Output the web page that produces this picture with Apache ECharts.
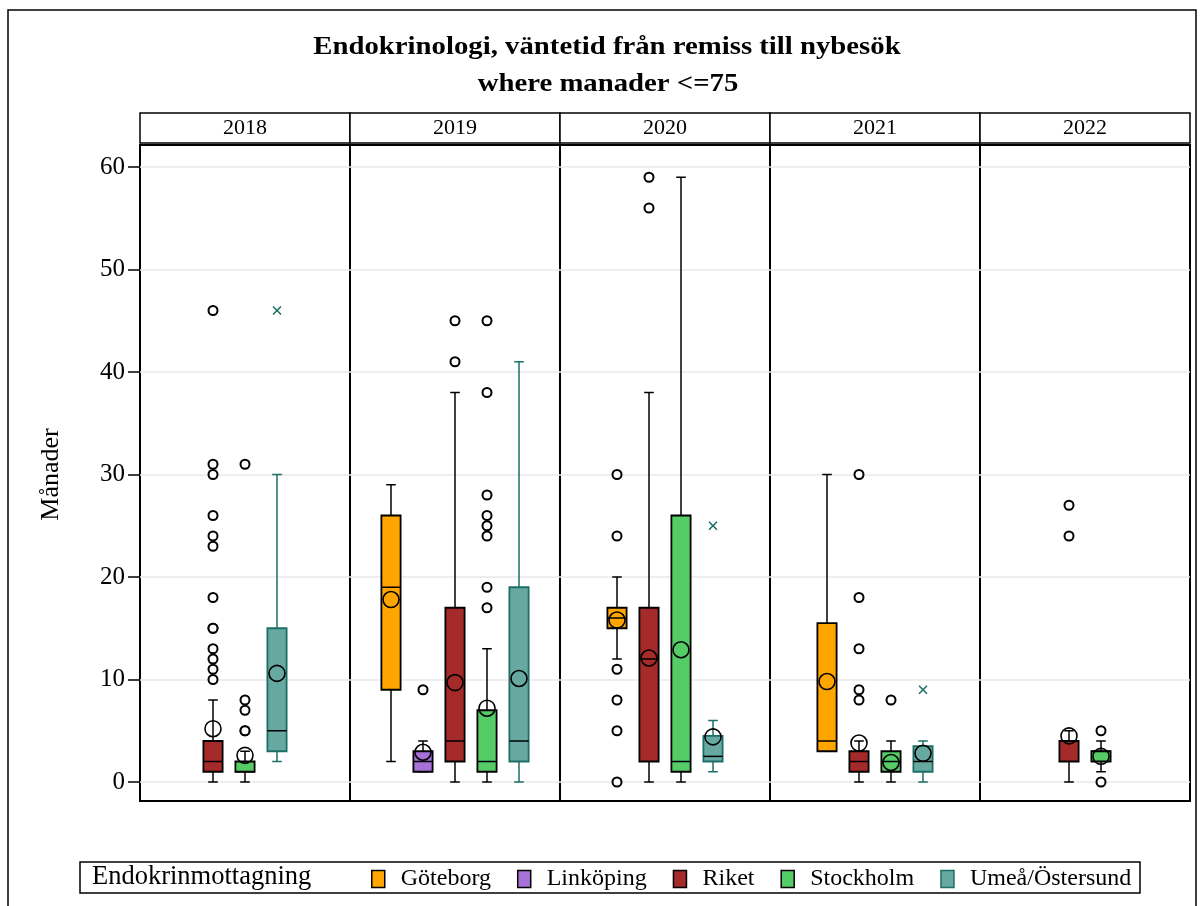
<!DOCTYPE html>
<html>
<head>
<meta charset="utf-8">
<script src="https://cdn.jsdelivr.net/npm/echarts@6/dist/echarts.min.js"></script>
<style>
  html, body { margin: 0; padding: 0; background: #fff; }
  #main { width: 1203px; height: 906px; }
</style>
</head>
<body>
<div id="main"></div>
<script>
// år (paneler) och mottagningar
const years = ['2018', '2019', '2020', '2021', '2022'];
const clinics = ['Göteborg', 'Linköping', 'Riket', 'Stockholm', 'Umeå/Östersund'];
const yTicks = [0, 10, 20, 30, 40, 50, 60];

// [min, Q1, median, Q3, max] per år, null = ingen data det året
const boxGoteborg = [null, [2, 9, 19, 26, 29], [12, 15, 16, 17, 20], [3, 3, 4, 15.5, 30], null];
const boxLinkoping = [null, [1, 1, 2, 3, 4], null, null, null];
const boxRiket = [[0, 1, 2, 4, 8], [0, 2, 4, 17, 38], [0, 2, 12, 17, 38], [0, 1, 2, 3, 4], [0, 2, 4, 4, 5]];
const boxStockholm = [[0, 1, 1, 2, 3], [0, 1, 2, 7, 13], [0, 1, 2, 26, 59], [0, 1, 2, 3, 4], [1, 2, 3, 3, 4]];
const boxUmea = [[2, 3, 5, 15, 30], [0, 2, 4, 19, 41], [1, 2, 2.5, 4.5, 6], [0, 1, 2, 3.5, 4], null];

// medelvärden
const meanGoteborg = [null, 17.8, 15.8, 9.8, null];
const meanLinkoping = [null, 2.9, null, null, null];
const meanRiket = [5.2, 9.7, 12.1, 3.8, 4.5];
const meanStockholm = [2.6, 7.2, 12.9, 1.9, 2.5];
const meanUmea = [10.6, 10.1, 4.4, 2.8, null];

// avvikande värden (ringar)
const outGoteborg = [[], [], [0, 5, 8, 11, 24, 30], [], []];
const outLinkoping = [[], [9], [], [], []];
const outRiket = [[10, 11, 12, 13, 15, 15, 18, 23, 24, 26, 30, 31, 46], [41, 45], [56, 59], [8, 9, 13, 18, 30], [24, 27]];
const outStockholm = [[5, 5, 7, 8, 31], [17, 19, 24, 25, 26, 28, 38, 45], [], [8], [0, 5]];
const outUmea = [[], [], [], [], []];
// extrema värden (kryss)
const farUmea = [[46], [], [25], [9], []];

const boxes = [boxGoteborg, boxLinkoping, boxRiket, boxStockholm, boxUmea];
const means = [meanGoteborg, meanLinkoping, meanRiket, meanStockholm, meanUmea];
const outs = [outGoteborg, outLinkoping, outRiket, outStockholm, outUmea];
const noFar = [[], [], [], [], []];
const fars = [noFar, noFar, noFar, noFar, farUmea];

const fills = ['#FFA500', '#A672D8', '#A52A2A', '#55CC66', '#67A9A1'];
const lines = ['#000000', '#000000', '#000000', '#000000', '#1B6F66'];

const FONT = 'Liberation Serif';
const panelLeft0 = 140, panelW = 210, bandW = 32;
const plotTop = 167, plotH = 615;

const chart = echarts.init(document.getElementById('main'));

const grid = [], xAxis = [], yAxis = [], series = [], graphic = [];

years.forEach(function (yr, p) {
  const pl = panelLeft0 + p * panelW;
  const present = clinics.filter(function (c, i) { return boxes[i][p] !== null; });
  const n = present.length;

  // ram
  grid.push({ left: pl, top: 145, width: panelW, height: 656, show: true, borderColor: '#000', borderWidth: 2, backgroundColor: 'transparent' });
  xAxis.push({ gridIndex: 3 * p, type: 'category', data: [''], show: false });
  yAxis.push({ gridIndex: 3 * p, type: 'value', show: false });

  // rutnätslinjer och y-axel
  grid.push({ left: pl, top: plotTop, width: panelW, height: plotH });
  xAxis.push({ gridIndex: 3 * p + 1, type: 'category', data: [''], show: false });
  yAxis.push({
    gridIndex: 3 * p + 1, type: 'value', min: 0, max: 60, interval: 10,
    axisLine: { show: false },
    axisTick: { show: p === 0, length: 12, lineStyle: { color: '#000', width: 1.5 } },
    axisLabel: { show: p === 0, color: '#000', fontFamily: FONT, fontSize: 25, margin: 15,
      formatter: function (v) { return yTicks.indexOf(v) >= 0 ? String(v) : ''; } },
    splitLine: { show: true, lineStyle: { color: '#e8e8e8', width: 1.5 } },
    name: p === 0 ? 'Månader' : '', nameLocation: 'middle', nameGap: 76, nameRotate: 90,
    nameTextStyle: { color: '#000', fontFamily: FONT, fontSize: 26 }
  });

  // data
  grid.push({ left: pl + panelW / 2 - n * bandW / 2, top: plotTop, width: n * bandW, height: plotH });
  xAxis.push({ gridIndex: 3 * p + 2, type: 'category', data: present, show: false });
  yAxis.push({ gridIndex: 3 * p + 2, type: 'value', min: 0, max: 60, show: false });
  const ax = 3 * p + 2;

  // rubrikruta
  graphic.push({ type: 'rect', shape: { x: pl, y: 113, width: panelW, height: 30 }, style: { fill: '#fff', stroke: '#000', lineWidth: 1.5 } });
  graphic.push({ type: 'text', x: pl + panelW / 2, y: 128, style: { text: yr, font: '22px "' + FONT + '"', fill: '#000', align: 'center', verticalAlign: 'middle' } });

  clinics.forEach(function (c, i) {
    const b = boxes[i][p];
    if (b === null) return;
    const fill = fills[i], line = lines[i];
    series.push({
      name: c, type: 'custom', xAxisIndex: ax, yAxisIndex: ax, z: 2,
      itemStyle: { color: fill, borderColor: line },
      encode: { x: 0, y: [1, 2, 3, 4, 5] },
      data: [[c].concat(b)],
      renderItem: function (params, api) {
        const xi = api.value(0);
        const lo = api.coord([xi, api.value(1)]);
        const q1 = api.coord([xi, api.value(2)]);
        const md = api.coord([xi, api.value(3)]);
        const q3 = api.coord([xi, api.value(4)]);
        const hi = api.coord([xi, api.value(5)]);
        const bw = api.size([1, 0])[0] * 0.6;
        const cw = api.size([1, 0])[0] * 0.3;
        const cx = lo[0];
        const ls = { stroke: line, lineWidth: 1.5 };
        return {
          type: 'group',
          children: [
            { type: 'line', shape: { x1: cx, y1: lo[1], x2: cx, y2: q1[1] }, style: ls },
            { type: 'line', shape: { x1: cx, y1: q3[1], x2: cx, y2: hi[1] }, style: ls },
            { type: 'line', shape: { x1: cx - cw / 2, y1: lo[1], x2: cx + cw / 2, y2: lo[1] }, style: ls },
            { type: 'line', shape: { x1: cx - cw / 2, y1: hi[1], x2: cx + cw / 2, y2: hi[1] }, style: ls },
            { type: 'rect', shape: { x: cx - bw / 2, y: q3[1], width: bw, height: q1[1] - q3[1] }, style: { fill: fill, stroke: line, lineWidth: 1.8 } },
            { type: 'line', shape: { x1: cx - bw / 2, y1: md[1], x2: cx + bw / 2, y2: md[1] }, style: { stroke: '#000', lineWidth: 1.5 } }
          ]
        };
      }
    });
    if (outs[i][p].length) {
      series.push({
        name: c, type: 'scatter', xAxisIndex: ax, yAxisIndex: ax, z: 3,
        symbol: 'circle', symbolSize: 9,
        itemStyle: { color: '#fff', borderColor: '#000', borderWidth: 2, opacity: 1 },
        data: outs[i][p].map(function (v) { return [c, v]; })
      });
    }
    if (fars[i][p].length) {
      series.push({
        name: c, type: 'scatter', xAxisIndex: ax, yAxisIndex: ax, z: 3,
        symbol: 'path://M0,1.2L1.2,0L5,3.8L8.8,0L10,1.2L6.2,5L10,8.8L8.8,10L5,6.2L1.2,10L0,8.8L3.8,5Z',
        symbolSize: 9,
        itemStyle: { color: '#1B6F66', opacity: 1 },
        data: fars[i][p].map(function (v) { return [c, v]; })
      });
    }
    if (means[i][p] !== null) {
      series.push({
        name: c, type: 'scatter', xAxisIndex: ax, yAxisIndex: ax, z: 4,
        symbol: 'circle', symbolSize: 16,
        itemStyle: { color: 'rgba(0,0,0,0)', borderColor: '#000', borderWidth: 1.6, opacity: 1 },
        data: [[c, means[i][p]]]
      });
    }
  });
});

// ytterram, titel och legendruta
graphic.unshift({ type: 'rect', shape: { x: 8, y: 10, width: 1188, height: 910 }, style: { fill: 'none', stroke: '#000', lineWidth: 1.5 }, z: -1 });
graphic.push({ type: 'text', x: 607, y: 48, scaleX: 1.15, style: { text: 'Endokrinologi, väntetid från remiss till nybesök', font: 'bold 25px "' + FONT + '"', fill: '#000', align: 'center', verticalAlign: 'middle' } });
graphic.push({ type: 'text', x: 608, y: 85, scaleX: 1.15, style: { text: 'where manader <=75', font: 'bold 25px "' + FONT + '"', fill: '#000', align: 'center', verticalAlign: 'middle' } });
graphic.push({ type: 'rect', shape: { x: 80, y: 862, width: 1060, height: 31 }, style: { fill: '#fff', stroke: '#000', lineWidth: 1.5 } });
graphic.push({ type: 'text', x: 92, y: 877, style: { text: 'Endokrinmottagning', font: '26.5px "' + FONT + '"', fill: '#000', verticalAlign: 'middle' } });

chart.setOption({
  animation: false,
  backgroundColor: '#fff',
  legend: {
    left: 366, top: 862, itemWidth: 13, itemHeight: 17, itemGap: 26,
    selectedMode: false, z: 10,
    textStyle: { fontFamily: FONT, fontSize: 24, color: '#000', padding: [0, 0, 0, 11] },
    data: clinics.map(function (c, i) {
      return { name: c, icon: 'rect', itemStyle: { color: fills[i], borderColor: lines[i], borderWidth: 1.5 } };
    })
  },
  grid: grid, xAxis: xAxis, yAxis: yAxis, series: series, graphic: graphic
});
</script>
</body>
</html>
